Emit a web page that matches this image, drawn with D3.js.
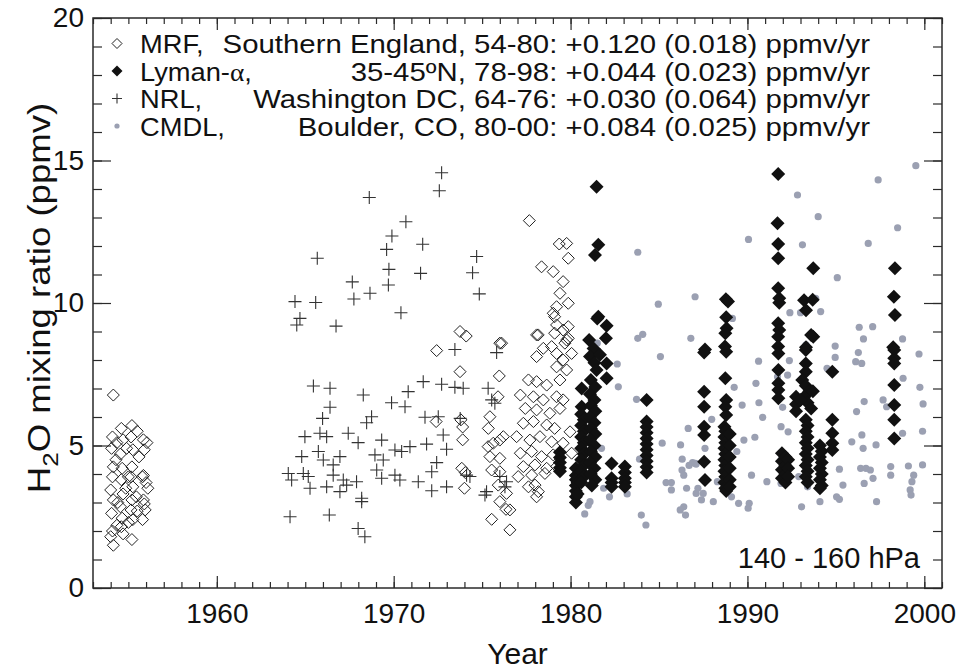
<!DOCTYPE html>
<html>
<head>
<meta charset="utf-8">
<script src="https://cdn.jsdelivr.net/npm/d3@7"></script>
<style>
  body { margin: 0; background: #fff; }
  svg text { font-family: "Liberation Sans", Arial, Helvetica, sans-serif; fill: #111; }
</style>
</head>
<body>
<svg id="chart" width="961" height="672"></svg>
<script>
// ---- Data: [year, H2O mixing ratio (ppmv)] ----
const mrf = [
  [1954.15,6.77],[1954.1,5.3],[1954.05,4.9],[1954.15,4.25],[1954.1,3.9],[1954.0,3.44],[1954.15,3.09],[1954.05,2.62],[1954.1,2.0],[1954.0,1.8],[1954.15,1.5],
  [1954.35,5.1],[1954.4,3.0],[1954.35,2.2],[1954.3,4.5],
  [1954.6,5.6],[1954.7,5.2],[1954.55,4.7],[1954.65,4.2],[1954.6,3.8],[1954.7,3.3],[1954.55,2.85],[1954.65,2.45],[1954.6,2.15],[1954.7,1.9],
  [1954.85,3.5],[1954.9,4.9],[1955.0,2.3],[1955.0,3.9],
  [1955.2,5.7],[1955.15,5.3],[1955.25,4.85],[1955.2,4.25],[1955.15,3.9],[1955.25,3.55],[1955.2,3.09],[1955.15,2.74],[1955.25,2.4],[1955.2,1.7],
  [1955.5,5.5],[1955.45,3.2],[1955.6,4.6],[1955.5,2.7],
  [1955.85,5.2],[1955.9,4.85],[1955.8,3.9],[1955.85,3.95],[1956.0,3.7],[1955.85,3.09],[1955.95,2.74],[1955.8,2.4],[1956.1,3.5],[1956.05,5.1],[1955.9,2.95],
  [1972.43,8.33],[1972.4,5.84],[1973.75,9.0],[1974.1,8.84],[1973.75,7.59],[1973.8,5.9],[1973.9,5.2],[1973.85,4.2],[1974.0,3.5],[1973.9,5.65],[1974.05,4.05],
  [1976.0,8.59],[1975.97,7.44],[1975.9,6.71],[1975.44,6.01],[1975.35,5.6],[1975.63,5.08],[1976.0,5.19],[1975.44,4.61],[1976.0,4.55],[1975.54,4.14],
  [1976.0,4.08],[1975.91,3.61],[1976.0,3.03],[1976.35,2.76],[1975.54,2.41],[1976.57,2.04],[1976.38,3.32],[1976.57,2.74],[1976.2,5.31],[1975.34,4.96],
  [1978.08,8.88],[1978.46,8.41],[1978.08,8.12],[1978.93,8.47],[1979.21,8.23],[1979.68,8.59],[1979.87,8.76],[1979.58,8.0],[1980.06,8.23],[1979.21,7.76],
  [1979.78,7.65],[1979.4,7.3],[1977.62,7.3],[1978.08,7.24],[1978.65,7.12],[1977.16,6.77],[1977.9,6.71],[1978.46,6.6],[1979.21,6.71],[1979.58,6.6],
  [1977.44,6.3],[1978.08,6.25],[1978.83,6.13],[1979.4,6.3],[1977.33,5.78],[1977.9,5.84],[1978.65,5.72],[1979.1,5.6],[1979.97,5.48],[1976.95,5.31],
  [1977.7,5.19],[1978.27,5.31],[1978.93,5.13],[1979.58,5.08],[1977.16,4.73],[1977.8,4.79],[1978.36,4.61],[1979.02,4.67],[1980.06,4.73],[1977.33,4.26],
  [1977.99,4.32],[1978.65,4.2],[1979.21,4.26],[1977.04,3.91],[1977.8,3.96],[1978.55,4.02],[1977.99,3.61],[1978.18,3.38],[1978.08,3.2],[1977.62,3.55],
  [1979.02,9.64],[1979.21,9.87],[1979.87,9.99],[1979.21,9.23],[1979.58,9.05],[1979.1,8.94],
  [1977.67,12.89],[1979.36,12.07],[1979.78,12.09],[1979.87,11.57],[1978.36,11.27],[1979.02,11.1],[1979.58,10.75],[1979.4,10.34],[1979.1,9.52],
  [1979.87,9.17],[1978.17,8.88],[1979.78,8.7],[1976.1,8.59]
];

const lyman = [
  [1979.4,4.76],[1979.4,4.58],[1979.4,4.4],[1979.4,4.22],[1979.4,4.1],
  [1980.3,4.2],[1980.3,3.95],[1980.3,3.8],[1980.3,3.6],[1980.3,3.4],[1980.3,3.2],[1980.3,3.0],[1980.4,3.7],[1980.4,3.3],
  [1980.63,7.0],[1980.63,6.36],[1980.6,6.1],[1980.75,5.9],[1980.6,5.7],[1980.75,5.5],[1980.6,5.3],[1980.75,5.1],[1980.6,4.9],[1980.75,4.7],
  [1980.6,4.5],[1980.75,4.3],[1980.6,4.1],[1980.75,3.9],[1980.6,3.7],
  [1981.05,8.7],[1981.3,8.4],[1981.1,8.12],[1981.35,7.9],[1981.47,7.65],[1981.15,7.3],[1981.4,7.05],[1981.1,6.8],[1981.35,6.6],[1981.15,6.4],
  [1981.4,6.2],[1981.1,6.0],[1981.35,5.8],[1981.15,5.6],[1981.4,5.4],[1981.1,5.2],[1981.35,5.0],[1981.15,4.8],[1981.4,4.6],[1981.1,4.4],
  [1981.35,4.2],[1981.15,4.0],[1981.4,3.8],[1981.2,3.6],
  [1981.57,9.52],[1981.51,9.46],[1981.38,11.68],[1981.57,12.04],[1981.47,14.08],
  [1982.04,9.2],[1982.0,8.76],[1981.66,8.18],[1982.04,7.88],[1982.04,7.36],
  [1982.32,4.37],[1982.32,3.85],[1982.32,3.7],[1982.32,3.55],
  [1983.07,4.26],[1983.07,4.05],[1983.07,3.85],[1983.07,3.7],[1983.07,3.55],
  [1984.3,6.6],[1984.3,5.84],[1984.3,5.65],[1984.3,5.45],[1984.3,5.25],[1984.3,5.05],[1984.3,4.85],[1984.3,4.65],[1984.3,4.45],[1984.3,4.25],[1984.3,4.05],
  [1987.6,8.37],[1987.55,8.26],[1987.55,6.89],[1987.55,6.36],[1987.55,5.66],[1987.55,5.37],[1987.55,4.43],[1987.6,3.79],
  [1988.78,10.13],[1988.9,10.05],[1988.8,9.5],[1988.82,9.11],[1988.75,8.94],[1988.73,8.47],[1988.8,8.29],[1988.75,7.36],[1988.8,6.6],[1988.75,6.36],
  [1988.8,6.07],[1988.7,5.66],[1988.75,5.5],[1988.7,5.3],[1988.75,5.1],[1988.7,4.9],[1988.75,4.7],[1988.7,4.5],[1988.75,4.3],[1988.7,4.1],
  [1988.75,3.9],[1988.7,3.7],[1988.75,3.5],[1988.8,3.4],
  [1989.0,5.4],[1989.0,5.0],[1989.0,4.6],[1989.0,4.2],[1989.0,3.8],[1989.0,3.55],
  [1991.74,14.53],[1991.7,12.8],[1991.74,12.07],[1991.74,11.57],[1991.74,10.52],[1991.8,10.17],[1991.8,10.01],[1991.74,9.29],[1991.8,9.05],
  [1991.74,8.82],[1991.74,8.47],[1991.75,8.23],[1991.75,7.65],[1991.75,7.18],[1991.75,6.95],[1991.75,6.66],
  [1991.95,4.73],[1991.95,4.45],[1991.95,4.15],[1991.95,3.85],[1992.15,4.6],[1992.15,4.3],[1992.15,4.0],[1992.15,3.7],
  [1992.3,4.5],[1992.3,4.2],[1992.3,3.9],
  [1992.75,6.71],[1992.75,6.45],[1992.75,6.2],
  [1993.2,10.1],[1993.31,9.75],[1993.72,8.82],[1993.6,8.88],[1993.31,8.45],[1993.3,8.35],[1993.3,7.88],[1993.3,7.59],[1993.72,11.22],[1993.69,10.11],
  [1993.1,7.3],[1993.3,7.1],[1993.5,6.9],[1993.2,6.7],[1993.4,6.5],[1993.6,6.3],[1993.0,6.6],[1993.7,6.9],
  [1993.3,5.9],[1993.4,5.7],[1993.3,5.5],[1993.4,5.3],[1993.3,5.1],[1993.4,4.9],[1993.3,4.7],[1993.4,4.5],[1993.3,4.3],[1993.4,4.1],[1993.3,3.9],[1993.4,3.7],
  [1994.1,5.0],[1994.2,4.8],[1994.1,4.6],[1994.2,4.4],[1994.1,4.2],[1994.2,4.0],[1994.1,3.8],[1994.2,3.6],[1994.1,3.5],
  [1994.8,7.59],[1994.8,5.9],[1994.8,5.43],[1994.8,5.08],[1994.8,4.84],
  [1998.34,11.22],[1998.28,10.22],[1998.34,9.58],[1998.24,8.45],[1998.3,8.35],[1998.3,8.06],[1998.3,7.88],[1998.3,7.12],[1998.3,6.42],[1998.3,5.9],[1998.3,5.25]
];

const nrl = [
  [1972.71,14.57],[1972.58,13.94],[1968.62,13.7],[1970.69,12.85],[1969.9,12.35],[1969.6,11.88],[1971.64,12.06],[1965.68,11.57],[1969.73,11.18],
  [1971.52,11.04],[1974.69,11.63],[1974.46,11.06],[1974.84,10.32],[1967.66,10.74],[1967.75,10.14],[1968.66,10.34],[1969.7,10.63],[1970.41,9.66],
  [1964.42,10.05],[1965.59,10.02],[1964.7,9.46],[1964.52,9.23],[1966.74,9.19],
  [1965.46,7.09],[1966.4,7.01],[1968.28,6.77],[1969.88,6.5],[1966.4,6.34],[1965.98,5.95],[1968.75,6.01],[1968.47,5.8],[1964.98,5.31],[1965.83,5.43],
  [1966.21,5.31],[1967.43,5.43],[1967.99,5.1],[1969.32,5.19],[1970.07,4.84],[1965.74,4.79],[1964.8,4.61],[1966.02,4.49],[1966.96,4.61],[1966.58,4.32],
  [1968.94,4.67],[1969.41,4.49],[1964.04,4.02],[1964.23,3.79],[1964.89,4.02],[1965.17,3.91],[1965.27,3.5],[1966.21,3.55],[1966.58,3.96],[1967.15,3.79],
  [1966.96,3.38],[1967.9,3.73],[1967.34,3.61],[1969.04,4.14],[1969.32,3.85],[1970.07,3.96],[1968.19,3.15],[1968.19,3.03],[1964.14,2.5],[1966.36,2.56],
  [1967.99,2.09],[1968.37,1.8],
  [1973.46,8.37],[1975.82,8.26],[1971.67,7.24],[1972.71,7.15],[1973.46,7.04],[1973.93,7.01],[1975.34,7.01],[1970.82,6.89],[1970.64,6.36],[1975.54,6.6],
  [1975.72,6.48],[1971.77,5.99],[1972.52,6.01],[1973.76,5.95],[1972.8,5.37],[1970.92,4.96],[1971.86,5.05],[1972.99,4.87],[1970.45,4.79],[1972.43,4.4],
  [1972.15,4.08],[1974.12,3.96],[1974.31,3.91],[1971.39,3.73],[1972.15,3.41],[1972.99,3.55],[1970.35,3.79],[1975.16,3.26],[1975.25,3.38],[1976.0,3.91],
  [1976.29,3.55],[1976.38,3.73]
];

const cmdl = [
  [1983.8,11.78],[1984.96,9.96],[1987.04,10.22],[1989.15,9.46],[1990.06,12.23],[1992.83,13.79],[1993.11,12.04],[1994.0,13.03],[1995.08,10.89],
  [1993.86,10.16],[1994.14,9.7],[1993.0,9.66],[1997.39,14.32],[1999.52,14.82],[1998.49,12.64],[1996.83,12.09],[1996.32,9.15],[1997.08,9.17],
  [1996.56,8.74],[1998.77,8.74],[1983.8,8.76],[1984.08,8.9],[1986.8,8.76],[1981.51,8.59],[1993.31,8.53],[1994.96,8.49],[1985.08,8.12],[1982.64,7.86],
  [1982.7,7.06],[1983.73,6.62],[1986.65,5.6],[1981.75,4.9],[1985.18,5.08],[1986.22,5.02],[1986.31,4.52],[1986.4,3.96],[1986.7,4.3],[1986.9,4.4],
  [1987.1,4.35],[1985.4,3.7],[1985.7,3.7],[1985.7,3.44],[1986.56,3.5],[1987.5,3.32],[1981.87,3.5],[1982.2,3.2],[1981.1,3.03],[1983.2,3.3],
  [1984.0,2.56],[1984.26,2.21],[1986.4,2.85],[1986.5,2.56],[1983.9,4.52],[1992.4,9.66],[1990.63,7.96],[1992.37,7.98],[1994.96,8.09],[1996.27,8.26],
  [1996.12,7.94],[1996.46,7.88],[1999.7,8.21],[1991.7,7.41],[1992.27,7.47],[1994.5,7.71],[1989.25,7.04],[1990.48,7.18],[1998.8,7.36],[1999.75,7.04],
  [1989.7,6.42],[1990.65,6.5],[1991.99,6.34],[1996.6,6.54],[1997.67,6.6],[1997.87,6.36],[1999.93,6.46],[1996.17,6.19],[1990.86,5.99],[1987.98,5.92],
  [1991.9,5.66],[1992.3,5.48],[1998.77,5.43],[1999.9,5.5],[1996.47,5.37],[1989.8,5.19],[1990.42,5.29],[1995.9,5.13],[1996.54,4.9],[1997.27,5.02],
  [1987.6,4.9],[1987.06,4.37],[1986.3,4.14],[1989.4,4.79],[1991.9,4.49],[1996.4,4.2],[1996.7,4.2],[1996.95,4.14],[1999.1,4.28],[1999.9,4.32],
  [1998.1,4.26],[1998.1,3.96],[1995.2,4.17],[1999.4,3.96],[1990.23,3.96],[1991.1,3.73],[1991.9,3.67],[1996.6,3.67],[1992.9,3.91],[1997.1,3.85],
  [1999.3,3.73],[1995.4,3.61],[1987.2,3.5],[1987.1,3.32],[1988.3,3.73],[1993.4,3.55],[1999.2,3.44],[1999.25,3.26],[1987.4,3.09],[1988.07,3.03],
  [1989.1,3.2],[1989.5,2.97],[1990.04,2.8],[1990.1,2.97],[1993.06,2.85],[1994.1,3.03],[1995.04,3.2],[1995.2,3.11],[1997.3,3.03],[1986.2,2.74],
  [1981.0,2.9],[1980.8,2.6]
];

// Axis ticks
const yearsMinor = d3.range(1953, 2002);
const yearsMajor = [1960, 1970, 1980, 1990, 2000];
const ppmvMinor = d3.range(0, 21);
const ppmvMajor = [0, 5, 10, 15, 20];

// Legend text
const legendNames = ["MRF,", "Lyman-", "NRL,", "CMDL,"];
const legendDetails = [
  "Southern England, 54-80: +0.120 (0.018) ppmv/yr",
  "35-45\u00baN, 78-98: +0.044 (0.023) ppmv/yr",
  "Washington DC, 64-76: +0.030 (0.064) ppmv/yr",
  "Boulder, CO, 80-00: +0.084 (0.025) ppmv/yr"
];
const pressureLabel = "140 - 160 hPa";

// ---- Layout ----
const box = { left: 93, right: 942, top: 18, bottom: 588 };
const svg = d3.select("#chart");
svg.append("rect").attr("width", 961).attr("height", 672).attr("fill", "#fff");

const x = d3.scaleLinear().domain([1953, 2001]).range([box.left, box.right]);
const y = d3.scaleLinear().domain([0, 20]).range([box.bottom, box.top]);

const ink = "#2a2a2a";
const grey = "#9ba0b2";

const diamond = r => `M0,${-r}L${r},0L0,${r}L${-r},0Z`;
const plus = r => `M${-r},0H${r}M0,${-r}V${r}`;

// ---- Axes (inward ticks on all four sides) ----
function styleAxis(g) {
  g.select(".domain").remove();
  g.selectAll(".tick line").attr("stroke", ink).attr("stroke-width", 1.2);
  g.selectAll(".tick text").attr("font-size", 28).attr("fill", "#111")
    .attr("font-family", '"Liberation Sans", Arial, sans-serif');
}
const bottomY = `translate(0,${box.bottom})`, topY = `translate(0,${box.top})`;
svg.append("g").attr("transform", bottomY)
  .call(d3.axisBottom(x).tickValues(yearsMinor).tickSize(-6).tickFormat("")).call(styleAxis);
svg.append("g").attr("transform", bottomY)
  .call(d3.axisBottom(x).tickValues(yearsMajor).tickSize(-12).tickPadding(15).tickFormat(d3.format("d"))).call(styleAxis);
svg.append("g").attr("transform", topY)
  .call(d3.axisTop(x).tickValues(yearsMinor).tickSize(-6).tickFormat("")).call(styleAxis);
svg.append("g").attr("transform", topY)
  .call(d3.axisTop(x).tickValues(yearsMajor).tickSize(-12).tickFormat("")).call(styleAxis);

const leftX = `translate(${box.left},0)`, rightX = `translate(${box.right},0)`;
svg.append("g").attr("transform", leftX)
  .call(d3.axisLeft(y).tickValues(ppmvMinor).tickSize(-9).tickFormat("")).call(styleAxis);
svg.append("g").attr("transform", leftX)
  .call(d3.axisLeft(y).tickValues(ppmvMajor).tickSize(-18).tickPadding(9).tickFormat(d3.format("d"))).call(styleAxis);
svg.append("g").attr("transform", rightX)
  .call(d3.axisRight(y).tickValues(ppmvMinor).tickSize(-9).tickFormat("")).call(styleAxis);
svg.append("g").attr("transform", rightX)
  .call(d3.axisRight(y).tickValues(ppmvMajor).tickSize(-18).tickFormat("")).call(styleAxis);

svg.append("rect")
  .attr("x", box.left).attr("y", box.top)
  .attr("width", box.right - box.left).attr("height", box.bottom - box.top)
  .attr("fill", "none").attr("stroke", ink).attr("stroke-width", 1.5);

// ---- Data marks ----
const marks = svg.append("g");
marks.selectAll("circle.cmdl").data(cmdl).join("circle").attr("class", "cmdl")
  .attr("cx", d => x(d[0])).attr("cy", d => y(d[1])).attr("r", 3.6).attr("fill", grey);
marks.selectAll("path.nrl").data(nrl).join("path").attr("class", "nrl")
  .attr("d", plus(6.5)).attr("transform", d => `translate(${x(d[0])},${y(d[1])})`)
  .attr("fill", "none").attr("stroke", "#333").attr("stroke-width", 1.1);
marks.selectAll("path.mrf").data(mrf).join("path").attr("class", "mrf")
  .attr("d", diamond(6)).attr("transform", d => `translate(${x(d[0])},${y(d[1])})`)
  .attr("fill", "none").attr("stroke", "#222").attr("stroke-width", 1);
marks.selectAll("path.lyman").data(lyman).join("path").attr("class", "lyman")
  .attr("d", diamond(7)).attr("transform", d => `translate(${x(d[0])},${y(d[1])})`)
  .attr("fill", "#111");

// ---- Legend (slightly widened sans text, tight line spacing) ----
const legendBaselines = [53, 80.5, 108, 135.5];
const markerX = 117;
const legend = svg.append("g");
legendBaselines.forEach((b, i) => {
  const my = b - 9.5;
  if (i === 0) legend.append("path").attr("d", diamond(5)).attr("transform", `translate(${markerX},${my})`)
    .attr("fill", "none").attr("stroke", "#222").attr("stroke-width", 1);
  if (i === 1) legend.append("path").attr("d", diamond(5.5)).attr("transform", `translate(${markerX},${my})`)
    .attr("fill", "#111");
  if (i === 2) legend.append("path").attr("d", plus(5)).attr("transform", `translate(${markerX},${my})`)
    .attr("stroke", "#333").attr("stroke-width", 1.1);
  if (i === 3) legend.append("circle").attr("cx", markerX).attr("cy", my).attr("r", 2.6).attr("fill", grey);

  const name = legend.append("text").attr("transform", `translate(140,${b}) scale(1.05,1)`)
    .attr("font-size", 26).text(legendNames[i]);
  if (i === 1) {
    name.append("tspan").attr("font-family", '"Liberation Serif", "DejaVu Serif", serif').text("\u03b1");
    name.append("tspan").text(",");
  }
  legend.append("text").attr("transform", `translate(870,${b}) scale(1.13,1)`)
    .attr("text-anchor", "end").attr("font-size", 26).text(legendDetails[i]);
});

// ---- Annotation and titles ----
svg.append("text").attr("x", 920).attr("y", 568).attr("text-anchor", "end")
  .attr("font-size", 29).text(pressureLabel);

svg.append("text").attr("x", (box.left + box.right) / 2).attr("y", 664)
  .attr("text-anchor", "middle").attr("font-size", 30).text("Year");

const yTitle = svg.append("text")
  .attr("transform", "translate(50,298) rotate(-90) scale(1.18,1)")
  .attr("text-anchor", "middle").attr("font-size", 31);
yTitle.append("tspan").text("H");
yTitle.append("tspan").attr("font-size", 22).attr("dy", 8).text("2");
yTitle.append("tspan").attr("dy", -8).text("O mixing ratio (ppmv)");
</script>
</body>
</html>
